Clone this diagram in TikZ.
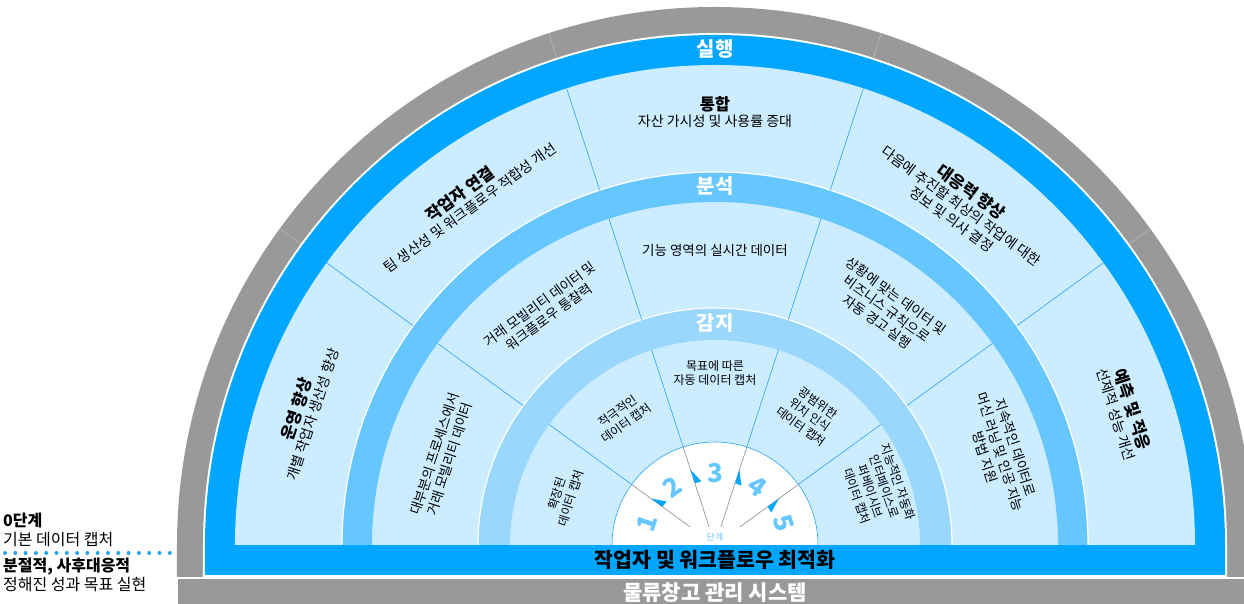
\documentclass[tikz,border=0pt]{standalone}
\usepackage{fontspec}
\setmainfont{Noto Sans CJK KR}
\usepackage{tikz}
\usetikzlibrary{positioning}

\definecolor{grayband}{RGB}{153,153,153}
\definecolor{grayline}{RGB}{185,185,185}
\definecolor{doband}{RGB}{0,166,255}
\definecolor{anband}{RGB}{102,199,255}
\definecolor{seband}{RGB}{153,216,252}
\definecolor{cellbg}{RGB}{204,236,255}
\definecolor{divline}{RGB}{40,165,240}
\definecolor{stepnum}{RGB}{102,199,255}
\definecolor{stepline}{RGB}{140,140,140}

\newcommand{\celltitle}[1]{{\fontsize{16.5}{19}\selectfont\bfseries #1}}

\tikzset{
  cell/.style={align=center,inner sep=1pt,font=\fontsize{14}{16.5}\selectfont},
  midcell/.style={align=center,inner sep=1pt,font=\fontsize{13.5}{16}\selectfont},
  smallcell/.style={align=center,inner sep=1pt,font=\fontsize{12}{14.5}\selectfont},
  bandlabel/.style={white,font=\fontsize{20}{22}\selectfont\bfseries},
  stepno/.style={stepnum,font=\fontsize{26}{26}\selectfont\bfseries},
  legend/.style={align=left,inner sep=0pt,font=\fontsize{16}{19}\selectfont},
  dotline/.style={color=divline,line width=4pt,line cap=round,dash pattern=on 0pt off 10.3pt}
}

\begin{document}
\begin{tikzpicture}[x=1pt,y=1pt]
\useasboundingbox (-715,-59) rectangle (529,545);

% bands
\fill[grayband] (-538,-32) -- (-538,0) arc[start angle=180,end angle=0,radius=538] -- (538,-32) -- cycle;
\fill[white] (-512,-32) -- (-512,0) arc[start angle=180,end angle=0,radius=512] -- (512,-32) -- cycle;
\fill[doband] (-510,-30) -- (-510,0) arc[start angle=180,end angle=0,radius=510] -- (510,-30) -- cycle;
\fill[cellbg] (-480,0) arc[start angle=180,end angle=0,radius=480] -- cycle;
\fill[anband] (-373,0) arc[start angle=180,end angle=0,radius=373] -- (343,0) arc[start angle=0,end angle=180,radius=343] -- cycle;
\draw[white,line width=1.2pt] (-373,0) arc[start angle=180,end angle=0,radius=373];
\fill[seband] (-237,0) arc[start angle=180,end angle=0,radius=237] -- (205,0) arc[start angle=0,end angle=180,radius=205] -- cycle;
\draw[white,line width=1.2pt] (-237,0) arc[start angle=180,end angle=0,radius=237];
\fill[white] (-103,0) arc[start angle=180,end angle=0,radius=103] -- cycle;
\draw[divline,line width=0.6pt] (-103,0) arc[start angle=180,end angle=0,radius=103];
\fill[grayband] (-537,-34) rectangle (529,-59);

% dividers
\foreach \a in {36,72,108,144}
{
\draw[grayline,line width=0.6pt] (\a:512) -- (\a:538);
\draw[divline,line width=0.6pt] (\a:373) -- (\a:480);
\draw[divline,line width=0.6pt] (\a:237) -- (\a:343);
\draw[divline,line width=0.6pt] (\a:103) -- (\a:205);
\draw[stepline,line width=0.6pt] (\a:103) -- (\a:{18/sin(\a)});
\fill[doband] (\a:79) -- (\a:65) -- ({\a-6}:65) -- cycle;
}

% stages
\foreach \n/\a in {1/162,2/126,3/90,4/54,5/18}
\node[stepno,rotate=\a-90] (num\n) at (\a:72) {\n};
\node[stepnum,font=\fontsize{9}{10}\selectfont] (stage) at (0,8) {단계};

% band labels
\node[bandlabel] (doing) at (90:496) {실행};
\node[bandlabel] (analysis) at (90:359) {분석};
\node[bandlabel] (sensing) at (90:222) {감지};

% outer ring
\node[cell,rotate=72] (ops) at (162:432) {\celltitle{운영 향상}\\개별 작업자 생산성 향상};
\node[cell,rotate=36] (link) at (126:426) {\celltitle{작업자 연결}\\팀 생산성 및 워크플로우 적합성 개선};
\node[cell] (integ) at (90:433) {\celltitle{통합}\\자산 가시성 및 사용률 증대};
\node[cell,rotate=-36] (resp) at (54:420) {\celltitle{대응력 향상}\\다음에 추진할 최상의 작업에 대한\\정보 및 의사 결정};
\node[cell,rotate=-72] (pred) at (18:431) {\celltitle{예측 및 적응}\\선제적 성능 개선};

% middle ring
\node[midcell,rotate=72] (mob) at (162:287) {대부분의 프로세스에서\\거래 모빌리티 데이터};
\node[midcell,rotate=36] (insight) at (126:290) {거래 모빌리티 데이터 및\\워크플로우 통찰력};
\node[midcell] (realtime) at (90:295) {기능 영역의 실시간 데이터};
\node[midcell,rotate=-36] (alert) at (54:292) {상황에 맞는 데이터 및\\비즈니스 규칙으로\\자동 경고 실행};
\node[midcell,rotate=-72] (ml) at (18:300) {지속적인 데이터로\\머신 러닝 및 인공 지능\\방법 지원};

% inner ring
\node[smallcell,rotate=72] (ext) at (162:159) {확장된\\데이터 캡처};
\node[smallcell,rotate=36] (act) at (126:158) {적극적인\\데이터 캡처};
\node[smallcell] (goal) at (90:172) {목표에 따른\\자동 데이터 캡처};
\node[smallcell,rotate=-36] (loc) at (54:161) {광범위한\\위치 인식\\데이터 캡처};
\node[smallcell,rotate=-71] (auto) at (19:172) {지능적인 자동화\\인터페이스로\\퍼베이시브\\데이터 캡처};

% bottom bars
\node[font=\fontsize{20.5}{22}\selectfont\bfseries] (optbar) at (0,-15) {작업자 및 워크플로우 최적화};
\node[white,font=\fontsize{21}{23}\selectfont\bfseries] (wmsbar) at (0,-48) {물류창고 관리 시스템};

% legend
\node[legend,anchor=south west] (lvl0) at (-712,-2) {\textbf{0단계}\\기본 데이터 캡처};
\node[legend,anchor=north west] (lvlr) at (-712,-13) {\textbf{분절적, 사후대응적}\\정해진 성과 목표 실현};
\coordinate (dotl) at (-710,-8);
\coordinate (dotr) at (-545,-8);
\draw[dotline] (dotl) -- (dotr);
\end{tikzpicture}
\end{document}
